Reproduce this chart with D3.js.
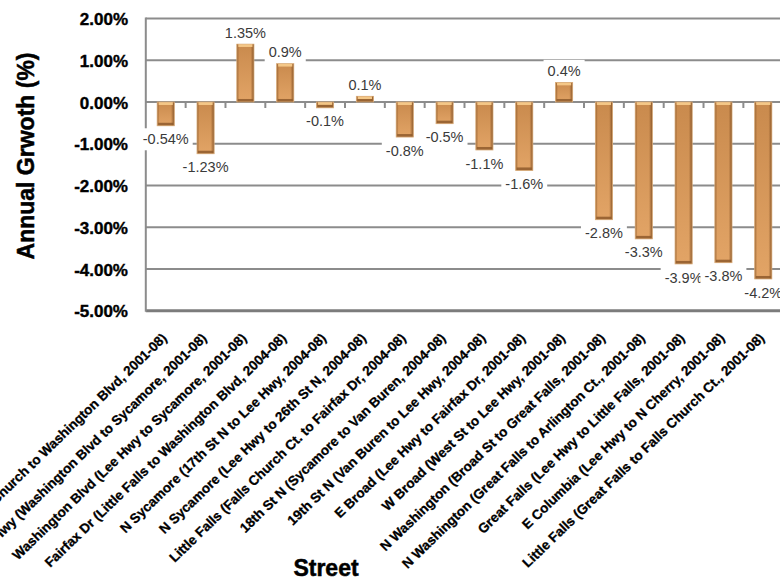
<!DOCTYPE html>
<html>
<head>
<meta charset="utf-8">
<script src="https://cdn.jsdelivr.net/npm/d3@7"></script>
<style>
  html, body { margin: 0; padding: 0; background: #fff; }
  svg { display: block; }
</style>
</head>
<body>
<svg id="chart" width="780" height="577"></svg>
<script>
// ---------------- data ----------------
const categories = [
  "Lee Hwy (Falls Church to Washington Blvd, 2001-08)",
  "Lee Hwy (Washington Blvd to Sycamore, 2001-08)",
  "Washington Blvd (Lee Hwy to Sycamore, 2001-08)",
  "Fairfax Dr (Little Falls to Washington Blvd, 2004-08)",
  "N Sycamore (17th St N to Lee Hwy, 2004-08)",
  "N Sycamore (Lee Hwy to 26th St N, 2004-08)",
  "Little Falls (Falls Church Ct. to Fairfax Dr, 2004-08)",
  "18th St N (Sycamore to Van Buren, 2004-08)",
  "19th St N (Van Buren to Lee Hwy, 2004-08)",
  "E Broad (Lee Hwy to Fairfax Dr, 2001-08)",
  "W Broad (West St to Lee Hwy, 2001-08)",
  "N Washington (Broad St to Great Falls, 2001-08)",
  "N Washington (Great Falls to Arlington Ct., 2001-08)",
  "Great Falls (Lee Hwy to Little Falls, 2001-08)",
  "E Columbia (Lee Hwy to N Cherry, 2001-08)",
  "Little Falls (Great Falls to Falls Church Ct., 2001-08)"
];
const values = [-0.57, -1.24, 1.39, 0.92, -0.14, 0.14, -0.84, -0.52, -1.15, -1.64, 0.47, -2.82, -3.28, -3.88, -3.85, -4.24];
const valueLabels = ["-0.54%", "-1.23%", "1.35%", "0.9%", "-0.1%", "0.1%", "-0.8%", "-0.5%", "-1.1%", "-1.6%", "0.4%", "-2.8%", "-3.3%", "-3.9%", "-3.8%", "-4.2%"];
const yTicks = [2, 1, 0, -1, -2, -3, -4, -5];
const yTitle = "Annual Grwoth (%)";
const xTitle = "Street";

// ---------------- layout ----------------
const svg = d3.select("#chart");
const plot = { left: 145.8, right: 783.2, top: 18.5, bottom: 310.7 };

const x = d3.scaleBand()
  .domain(categories)
  .range([plot.left, plot.right])
  .paddingInner(0.57)
  .paddingOuter(0.285);
const y = d3.scaleLinear().domain([-5, 2]).range([plot.bottom, plot.top]);
const step = x.step();
const bw = x.bandwidth();

// gradients
const defs = svg.append("defs");
const g1 = defs.append("linearGradient").attr("id", "bodyGrad")
  .attr("x1", 0).attr("y1", 0).attr("x2", 0).attr("y2", 1);
g1.append("stop").attr("offset", "0%").attr("stop-color", "#c98a4d");
g1.append("stop").attr("offset", "100%").attr("stop-color", "#e2a466");
const g2 = defs.append("linearGradient").attr("id", "sideGrad")
  .attr("x1", 0).attr("y1", 0).attr("x2", 1).attr("y2", 0);
g2.append("stop").attr("offset", "0%").attr("stop-color", "#8f5a2a").attr("stop-opacity", 0.85);
g2.append("stop").attr("offset", "14%").attr("stop-color", "#8f5a2a").attr("stop-opacity", 0.0);
g2.append("stop").attr("offset", "80%").attr("stop-color", "#8f5a2a").attr("stop-opacity", 0.0);
g2.append("stop").attr("offset", "100%").attr("stop-color", "#7a4a20").attr("stop-opacity", 0.9);

// gridlines
svg.append("g").selectAll("line").data(yTicks).join("line")
  .attr("x1", plot.left).attr("x2", 780)
  .attr("y1", d => y(d)).attr("y2", d => y(d))
  .attr("stroke", d => d === -5 ? "#7c7c7c" : "#8c8c8c")
  .attr("stroke-width", d => d === -5 ? 3 : 2);

// y axis line
svg.append("line")
  .attr("x1", plot.left).attr("x2", plot.left)
  .attr("y1", plot.top - 1).attr("y2", plot.bottom + 1)
  .attr("stroke", "#8c8c8c").attr("stroke-width", 2);

// category ticks under zero line
svg.append("g").selectAll("line").data(categories).join("line")
  .attr("x1", d => x(d) + bw + (step - bw) / 2)
  .attr("x2", d => x(d) + bw + (step - bw) / 2)
  .attr("y1", y(0)).attr("y2", y(0) + 6)
  .attr("stroke", "#8c8c8c").attr("stroke-width", 2);

// y tick labels via axis
const yAxis = d3.axisLeft(y).tickValues(yTicks).tickSize(0).tickPadding(0)
  .tickFormat(d => d.toFixed(2) + "%");
const ya = svg.append("g").attr("transform", `translate(128,0)`).call(yAxis);
ya.select(".domain").remove();
ya.selectAll("text")
  .attr("font-family", "Liberation Sans, Arial, sans-serif")
  .attr("font-weight", "bold").attr("font-size", 17).attr("fill", "#000")
  .attr("stroke", "#000").attr("stroke-width", 0.4)
  .attr("dy", "0.36em");

// bars
const bars = svg.append("g").selectAll("g").data(categories).join("g");
bars.each(function (d, i) {
  const g = d3.select(this);
  const v = values[i];
  const y0 = y(Math.max(0, v)), y1 = y(Math.min(0, v));
  const h = y1 - y0;
  const bx = x(d);
  g.append("rect").attr("x", bx).attr("y", y0).attr("width", bw).attr("height", h)
    .attr("fill", "url(#bodyGrad)");
  g.append("rect").attr("x", bx).attr("y", y0).attr("width", bw).attr("height", h)
    .attr("fill", "url(#sideGrad)");
  // top highlight
  g.append("rect").attr("x", bx + 1.5).attr("y", y0).attr("width", bw - 3).attr("height", Math.min(3, h / 2))
    .attr("fill", "#f4c787");
  // bottom shadow band
  g.append("rect").attr("x", bx + 1).attr("y", y1 - Math.min(3, h / 2)).attr("width", bw - 2).attr("height", Math.min(3, h / 2))
    .attr("fill", "#8e5b2c").attr("opacity", 0.85);
  g.append("rect").attr("x", bx).attr("y", y0).attr("width", bw).attr("height", h)
    .attr("fill", "none").attr("stroke", "#d9ad7c").attr("stroke-width", 0.8);
});

// data labels with white boxes
const lab = svg.append("g");
categories.forEach((d, i) => {
  const v = values[i];
  const cx = x(d) + bw / 2;
  const cy = v >= 0 ? y(v) - 11.5 : y(v) + 13.5;
  const box = lab.append("rect").attr("fill", "#fff");
  const t = lab.append("text")
    .attr("x", cx).attr("y", cy).attr("dy", "0.35em")
    .attr("text-anchor", "middle")
    .attr("font-family", "Liberation Sans, Arial, sans-serif")
    .attr("font-size", 14.5).attr("fill", "#3a3a3a")
    .text(valueLabels[i]);
  const w = t.node().getComputedTextLength();
  box.attr("x", cx - w / 2 - 4).attr("y", cy - 11).attr("width", w + 8).attr("height", 22);
});

// x category labels, rotated
svg.append("g").selectAll("text").data(categories).join("text")
  .attr("transform", d => `translate(${x(d) + bw / 2 + 2},339) rotate(-44)`)
  .attr("text-anchor", "end")
  .attr("font-family", "Liberation Sans, Arial, sans-serif")
  .attr("font-weight", "bold").attr("font-size", 13.5).attr("fill", "#000")
  .attr("stroke", "#000").attr("stroke-width", 0.3)
  .text(d => d);

// axis titles
svg.append("text")
  .attr("transform", `translate(34,156) rotate(-90)`)
  .attr("text-anchor", "middle")
  .attr("font-family", "Liberation Sans, Arial, sans-serif")
  .attr("font-weight", "bold").attr("font-size", 23).attr("fill", "#000")
  .attr("stroke", "#000").attr("stroke-width", 0.5)
  .text(yTitle);
svg.append("text")
  .attr("x", 326).attr("y", 576)
  .attr("text-anchor", "middle")
  .attr("font-family", "Liberation Sans, Arial, sans-serif")
  .attr("font-weight", "bold").attr("font-size", 23).attr("fill", "#000")
  .attr("stroke", "#000").attr("stroke-width", 0.5)
  .text(xTitle);
</script>
</body>
</html>
